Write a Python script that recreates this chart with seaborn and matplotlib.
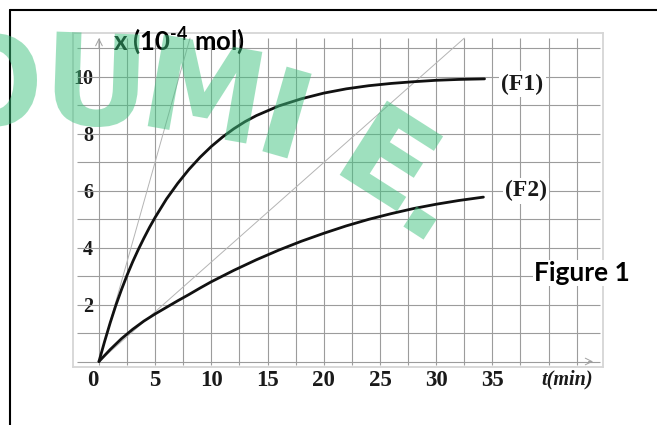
import numpy as np
import pandas as pd
import matplotlib
matplotlib.use("Agg")
import matplotlib.pyplot as plt
import seaborn as sns
from matplotlib.lines import Line2D
from matplotlib.textpath import TextPath
from matplotlib.font_manager import FontProperties
from matplotlib.patches import PathPatch
from matplotlib.transforms import Affine2D, IdentityTransform, ScaledTranslation

# ---- data: amount of product x (10^-4 mol) versus time t (min) ----
t_f1 = [0, 0.5, 1, 1.5, 2, 2.5, 3, 3.5, 4, 4.5, 5, 6, 7, 8, 9, 10, 11, 12, 13, 14,
        16, 18, 20, 22, 24, 26, 28, 30, 32, 34.3]
x_f1 = [0, 0.7, 1.36, 1.97, 2.52, 3.03, 3.5, 3.93, 4.33, 4.71, 5.06, 5.7, 6.25, 6.74,
        7.17, 7.55, 7.88, 8.17, 8.42, 8.63, 8.97, 9.22, 9.42, 9.57, 9.68, 9.76, 9.82,
        9.87, 9.9, 9.92]

t_f2 = [0, 1, 2, 3, 4, 5, 6, 7, 8, 9, 10, 12, 14, 16, 18, 20, 22, 24, 26, 28, 30, 32, 34.2]
x_f2 = [0, 0.42, 0.8, 1.13, 1.42, 1.67, 1.9, 2.13, 2.35, 2.58, 2.8, 3.2, 3.57, 3.91,
        4.22, 4.5, 4.76, 4.99, 5.19, 5.37, 5.52, 5.65, 5.77]

# tangents at the origin
tan1_t = [0, 8.1]
tan1_x = [0, 11.35]
tan2_t = [0, 32.5]
tan2_x = [0, 11.35]

x_ticks = [0, 5, 10, 15, 20, 25, 30, 35]
y_ticks = [2, 4, 6, 8, 10]
curve_names = ["(F1)", "(F2)"]

df = pd.concat([
    pd.DataFrame({"t": t_f1, "x": x_f1, "curve": curve_names[0]}),
    pd.DataFrame({"t": t_f2, "x": x_f2, "curve": curve_names[1]}),
])
df_tan = pd.concat([
    pd.DataFrame({"t": tan1_t, "x": tan1_x, "line": "T1"}),
    pd.DataFrame({"t": tan2_t, "x": tan2_x, "line": "T2"}),
])

sns.set_theme(style="white")
plt.rcParams["mathtext.fontset"] = "custom"
plt.rcParams["mathtext.rm"] = "Lato:bold"
plt.rcParams["mathtext.it"] = "Lato:bold"
plt.rcParams["mathtext.bf"] = "Lato:bold"

W, H = 657, 425
fig = plt.figure(figsize=(W / 100, H / 100), dpi=100)
fig.patch.set_facecolor("white")

# graph-paper area
L, R, T, B = 73, 603, 33, 367
ax = fig.add_axes([L / W, 1 - B / H, (R - L) / W, (B - T) / H])
ax.set_xlim(-2.31, 44.84)
ax.set_ylim(-0.193, 11.53)
for s in ax.spines.values():
    s.set_color("#d6d6d6")
    s.set_linewidth(1.3)

grid_col = "#9c9c9c"
ax.vlines(np.arange(0, 43, 2.5), -0.12, 11.36, color=grid_col, lw=0.8, zorder=1)
ax.hlines(np.arange(0, 12, 1), -1.96, 44.6, color=grid_col, lw=0.8, zorder=1)

# small axis arrows
ax.annotate("", xy=(0, 11.45), xytext=(0, 10.9),
            arrowprops=dict(arrowstyle="->", color="#a0a0a0", lw=0.7), zorder=2)
ax.annotate("", xy=(44.2, 0), xytext=(43.3, 0),
            arrowprops=dict(arrowstyle="->", color="#a0a0a0", lw=0.7), zorder=2)

# tangents
sns.lineplot(data=df_tan, x="t", y="x", units="line", estimator=None, sort=False,
             color="#b4b4b4", lw=0.7, ax=ax, legend=False, zorder=2)
# curves
sns.lineplot(data=df, x="t", y="x", hue="curve", palette=["#111111", "#111111"],
             estimator=None, sort=False, lw=2.0, ax=ax, legend=False, zorder=3,
             solid_joinstyle="round", solid_capstyle="round")

ax.set_xlabel("")
ax.set_ylabel("")
serif = "Liberation Serif"
ax.set_xticks(x_ticks)
ax.set_xticklabels([str(v) for v in x_ticks], fontfamily=serif, fontweight="bold",
                   fontsize=16.5, color="#1a1a1a")
ax.set_yticks(y_ticks)
ax.set_yticklabels([str(v) for v in y_ticks], fontfamily=serif, fontweight="bold",
                   fontsize=14.5, color="#1a1a1a")
ax.tick_params(axis="y", length=0, pad=-14.4)
ax.tick_params(axis="x", length=0, pad=2.0)
lab0 = ax.get_xticklabels()[0]
lab0.set_transform(lab0.get_transform() + ScaledTranslation(-0.06, 0, fig.dpi_scale_trans))

ax.text(41.64, -0.62, "t(min)", fontfamily=serif, fontweight="bold", fontstyle="italic",
        fontsize=14.5, ha="center", va="center", color="#1a1a1a")

box = dict(fc="white", ec="none", pad=1.5)
ax.text(35.8, 9.74, curve_names[0], fontfamily=serif, fontweight="bold", fontsize=17,
        ha="left", va="center", bbox=box, zorder=4, color="#1a1a1a")
ax.text(36.1, 5.99, curve_names[1], fontfamily=serif, fontweight="bold", fontsize=17,
        ha="left", va="center", bbox=box, zorder=4, color="#1a1a1a")

ax.text(1.25, 10.94, r"x (10$^{\text{-4}}$ mol)", fontfamily="Lato", fontweight="bold",
        fontsize=18.5, ha="left", va="baseline", color="black", zorder=4)
ax.text(42.97, 3.11, "Figure 1", fontfamily="Lato", fontweight="bold", fontsize=19,
        ha="center", va="center", color="black", bbox=dict(fc="white", ec="none", pad=1),
        zorder=4, clip_on=False)

# page frame
fig.add_artist(Line2D([10 / W, 1], [1 - 10 / H, 1 - 10 / H], color="black", lw=1.5))
fig.add_artist(Line2D([10 / W, 10 / W], [0, 1 - 10 / H], color="black", lw=1.5))

# watermark letters
wm_font = FontProperties(family="DejaVu Sans", weight="bold")


def stamp(ch, cx, cy, w, h, angle):
    tp = TextPath((0, 0), ch, size=100, prop=wm_font)
    bb = tp.get_extents()
    tr = (Affine2D()
          .translate(-(bb.x0 + bb.x1) / 2, -(bb.y0 + bb.y1) / 2)
          .scale(w / bb.width, h / bb.height)
          .rotate_deg(angle)
          .translate(cx, H - cy))
    patch = PathPatch(tr.transform_path(tp), fc="#3fc27f", ec="none", alpha=0.5,
                      transform=IdentityTransform(), zorder=10)
    fig.add_artist(patch)


stamp("O", -8, 80, 90, 94, 0)
stamp("U", 96.5, 80, 83, 94, -2)
stamp("M", 205, 89, 100, 93, -10)
stamp("I", 287, 112.5, 26, 88, -16)
stamp("E", 392, 156, 68, 88, -32.5)
stamp(".", 420, 223, 24, 24, -33)

fig.savefig("out.png", dpi=100, facecolor="white")
